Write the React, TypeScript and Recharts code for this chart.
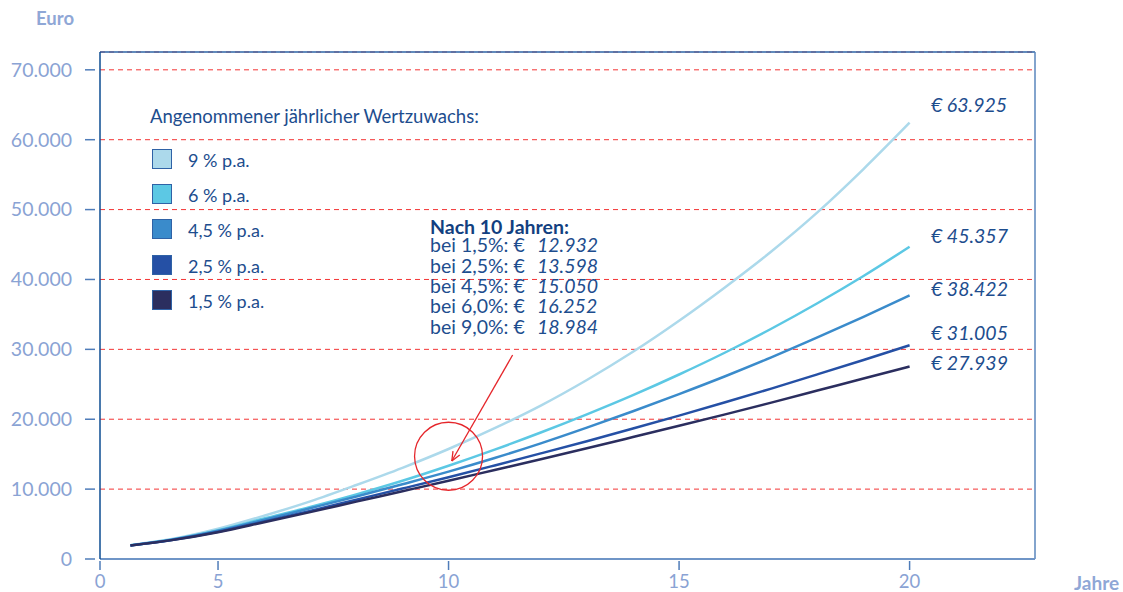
import React from 'react';
import {
  CartesianGrid,
  Line,
  LineChart,
  ReferenceDot,
  ReferenceLine,
  XAxis,
  YAxis,
} from 'recharts';

// x positions on the chart's year axis (Euro)
const years = [3.1, 4, 5, 6, 7, 8, 9, 10, 11, 12, 13, 14, 15, 16, 17, 18, 19, 20];
const rate9 = [1980, 2850, 4320, 6190, 8250, 10590, 13050, 15740, 18720, 21960, 25620, 29650, 34100, 38900, 44000, 49600, 55800, 62430];
const rate6 = [1960, 2790, 4120, 5790, 7450, 9250, 11200, 13350, 15650, 18100, 20700, 23450, 26400, 29550, 32950, 36600, 40500, 44680];
const rate45 = [1950, 2760, 4030, 5610, 7270, 8950, 10700, 12500, 14450, 16550, 18800, 21150, 23600, 26150, 28850, 31700, 34650, 37730];
const rate25 = [1940, 2720, 3900, 5380, 6890, 8490, 10080, 11700, 13390, 15110, 16860, 18670, 20520, 22420, 24380, 26420, 28480, 30580];
const rate15 = [1930, 2700, 3840, 5260, 6710, 8210, 9700, 11200, 12740, 14280, 15850, 17450, 19060, 20700, 22380, 24100, 25830, 27540];

const seriesKeys = ['p9', 'p6', 'p45', 'p25', 'p15'];
const seriesColors = ['#acd9eb', '#5cc8e4', '#3a8bcb', '#2550a5', '#2b2e5f'];
const legendLabels = ['9 % p.a.', '6 % p.a.', '4,5 % p.a.', '2,5 % p.a.', '1,5 % p.a.'];
const endLabels = ['€ 63.925', '€ 45.357', '€ 38.422', '€ 31.005', '€ 27.939'];

const noteRates = ['1,5%', '2,5%', '4,5%', '6,0%', '9,0%'];
const noteValues = ['12.932', '13.598', '15.050', '16.252', '18.984'];

const xMin = 2.44;
const xMax = 22.72;
const xTicks = [xMin, 5, 10, 15, 20];
const xTickLabels = ['0', '5', '10', '15', '20'];
const yMax = 72550;
const yTicks = [0, 10000, 20000, 30000, 40000, 50000, 60000, 70000];

const data = years.map((v, i) => ({
  v,
  p9: rate9[i],
  p6: rate6[i],
  p45: rate45[i],
  p25: rate25[i],
  p15: rate15[i],
}));

const FONT = 'Lato, "Open Sans", sans-serif';
const AXIS_TEXT = '#8aa3d4';
const DARK_TEXT = '#1d4d8e';
const RED = '#e5262b';

function fmt(n: number) {
  return n === 0 ? '0' : n.toLocaleString('de-DE');
}

function YTick(props: any) {
  const { x, y, payload } = props;
  return (
    <g>
      <line x1={x - 15} x2={x - 5} y1={y} y2={y} stroke="#4f7cb9" strokeWidth={1.5} />
      <text x={x - 28} y={y} dy="0.35em" textAnchor="end" fill={AXIS_TEXT} fontSize={19.5} fontFamily={FONT}>
        {fmt(payload.value)}
      </text>
    </g>
  );
}

function XTick(props: any) {
  const { x, y, index } = props;
  return (
    <g>
      <line x1={x} x2={x} y1={y + 2} y2={y + 11} stroke="#4f7cb9" strokeWidth={1.5} />
      <text x={x} y={y + 23} dy="0.35em" textAnchor="middle" fill={AXIS_TEXT} fontSize={18.5} fontFamily={FONT}>
        {xTickLabels[index]}
      </text>
    </g>
  );
}

function Arrow(props: any) {
  const { x1, y1, x2, y2 } = props;
  const a = Math.atan2(y2 - y1, x2 - x1);
  const len = 10;
  const spread = 0.4;
  return (
    <g stroke={RED} strokeWidth={1.3} fill="none">
      <line x1={x1} y1={y1} x2={x2} y2={y2} />
      <line x1={x2} y1={y2} x2={x2 - len * Math.cos(a - spread)} y2={y2 - len * Math.sin(a - spread)} />
      <line x1={x2} y1={y2} x2={x2 - len * Math.cos(a + spread)} y2={y2 - len * Math.sin(a + spread)} />
    </g>
  );
}

function Label({ x, y, size, children, style }: any) {
  const lh = Math.round(size * 0.82);
  return (
    <div
      style={{
        position: 'absolute',
        left: x,
        top: y - lh / 2,
        fontSize: size,
        lineHeight: `${lh}px`,
        height: lh,
        fontFamily: FONT,
        whiteSpace: 'nowrap',
        ...style,
      }}
    >
      {children}
    </div>
  );
}

export default function App() {
  const legendY = [159, 194, 229, 265, 300];
  const noteY = [245, 266, 286, 306, 327];
  const endY = [105, 236, 289, 333, 363];

  return (
    <div style={{ position: 'absolute', left: 0, top: 0, width: 1123, height: 592, background: '#fff' }}>
      <LineChart width={1123} height={592} data={data} margin={{ top: 52, right: 88, bottom: 0, left: 0 }}>
        <CartesianGrid vertical={false} stroke="#f43434" strokeDasharray="5 4" />
        <XAxis
          type="number"
          dataKey="v"
          domain={[xMin, xMax]}
          ticks={xTicks}
          allowDataOverflow
          height={33}
          tickSize={0}
          tickMargin={0}
          axisLine={{ stroke: '#6f95c7', strokeWidth: 2 }}
          tick={(p: any) => <XTick {...p} />}
        />
        <YAxis
          type="number"
          domain={[0, yMax]}
          ticks={yTicks}
          allowDataOverflow
          width={100}
          tickSize={0}
          tickMargin={0}
          axisLine={{ stroke: '#0d4d92', strokeWidth: 1.5 }}
          tick={(p: any) => <YTick {...p} />}
        />
        <ReferenceLine y={yMax} stroke="#2c63a4" strokeWidth={1.5} />
        <ReferenceLine x={xMax} stroke="#5a86bd" strokeWidth={1.5} />
        {seriesKeys.map((k, i) => (
          <Line
            key={k}
            type="monotone"
            dataKey={k}
            stroke={seriesColors[i]}
            strokeWidth={2.5}
            dot={false}
            activeDot={false}
            isAnimationActive={false}
          />
        ))}
        <ReferenceDot x={10} y={14700} r={34} fill="none" stroke={RED} strokeWidth={1.3} />
        <ReferenceLine
          segment={[
            { x: 11.39, y: 29190 },
            { x: 10.07, y: 14020 },
          ]}
          shape={(p: any) => <Arrow {...p} />}
        />
      </LineChart>

      <Label x={36} y={18} size={18.5} style={{ color: '#8fa7d6', fontWeight: 700 }}>
        Euro
      </Label>
      <Label x={1074} y={583} size={19} style={{ color: '#8fa7d6', fontWeight: 700 }}>
        Jahre
      </Label>

      <Label x={150} y={116} size={18.5} style={{ color: DARK_TEXT }}>
        Angenommener jährlicher Wertzuwachs:
      </Label>
      {legendLabels.map((t, i) => (
        <React.Fragment key={t}>
          <div
            style={{
              position: 'absolute',
              left: 152,
              top: legendY[i] - 10,
              width: 18,
              height: 18,
              background: seriesColors[i],
              border: '1px solid #2f62a6',
            }}
          />
          <Label x={188} y={legendY[i] + 1} size={18} style={{ color: DARK_TEXT }}>
            {t}
          </Label>
        </React.Fragment>
      ))}

      <Label x={430} y={227} size={19.5} style={{ color: '#123f80', fontWeight: 700 }}>
        Nach 10 Jahren:
      </Label>
      {noteRates.map((r, i) => (
        <React.Fragment key={r}>
          <Label x={430} y={noteY[i]} size={19.5} style={{ color: DARK_TEXT }}>
            bei {r}: €
          </Label>
          <Label x={537} y={noteY[i]} size={19.5} style={{ color: DARK_TEXT, fontStyle: 'italic' }}>
            {noteValues[i]}
          </Label>
        </React.Fragment>
      ))}

      {endLabels.map((t, i) => (
        <Label key={t} x={931} y={endY[i]} size={19.5} style={{ color: DARK_TEXT, fontStyle: 'italic' }}>
          {t}
        </Label>
      ))}
    </div>
  );
}
